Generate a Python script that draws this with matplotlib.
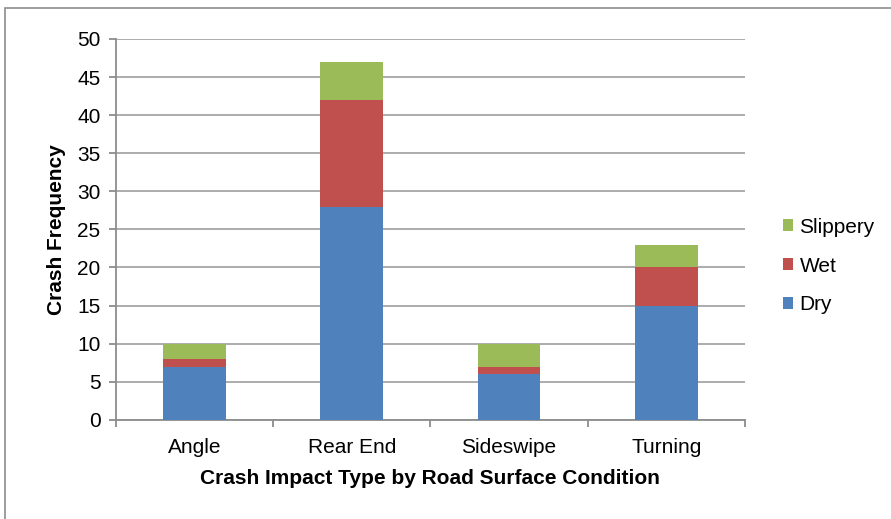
import matplotlib.pyplot as plt
from matplotlib.patches import Rectangle

plt.rcParams['font.family'] = ['Liberation Sans', 'DejaVu Sans']

categories = ['Angle', 'Rear End', 'Sideswipe', 'Turning']
dry = [7, 28, 6, 15]
wet = [1, 14, 1, 5]
slippery = [2, 5, 3, 3]

fig = plt.figure(figsize=(8.91, 5.19), dpi=100)
ax = fig.add_axes([0.130, 0.191, 0.706, 0.734])

# chart border
fig.patches.append(Rectangle((5 / 891, -0.05), 1.1, 1 - 8 / 519 + 0.05, transform=fig.transFigure,
                             fill=False, edgecolor='#8c8c8c', linewidth=1.2))

x = range(len(categories))
w = 0.4
wet_base = [d for d in dry]
slip_base = [d + v for d, v in zip(dry, wet)]
b1 = ax.bar(x, dry, w, color='#4f81bd', label='Dry', zorder=3)
b2 = ax.bar(x, wet, w, bottom=wet_base, color='#c0504d', label='Wet', zorder=3)
b3 = ax.bar(x, slippery, w, bottom=slip_base, color='#9bbb59', label='Slippery', zorder=3)

ax.set_xlim(-0.5, 3.5)
ax.set_ylim(0, 50)
ax.set_yticks(range(0, 51, 5))
ax.yaxis.grid(True, color='#a6a6a6', linewidth=1.3, zorder=0)
ax.set_axisbelow(True)
for s in ['top', 'right']:
    ax.spines[s].set_visible(False)
ax.spines['left'].set_color('#8c8c8c')
ax.spines['bottom'].set_color('#8c8c8c')
ax.spines['left'].set_linewidth(1.3)
ax.spines['bottom'].set_linewidth(1.3)

fs = 15
ax.set_xticks(list(x))
ax.set_xticklabels(categories)
ax.set_xticks([-0.5, 0.5, 1.5, 2.5, 3.5], minor=True)
ax.tick_params(axis='x', which='major', length=0, labelsize=fs, pad=13)
ax.tick_params(axis='x', which='minor', length=5, color='#8c8c8c', width=1.3)
ax.tick_params(axis='y', length=5, color='#8c8c8c', width=1.3, labelsize=fs, pad=6)

ax.set_xlabel('Crash Impact Type by Road Surface Condition', fontsize=fs, fontweight='bold', labelpad=9)
ax.set_ylabel('Crash Frequency', fontsize=fs, fontweight='bold', labelpad=8)

fig.legend(handles=[b3, b2, b1], loc='center left', bbox_to_anchor=(764 / 891, 1 - 266 / 519),
           frameon=False, fontsize=fs, handlelength=0.5, handleheight=0.5,
           labelspacing=0.95, handletextpad=0.3)

fig.savefig('out.png', dpi=100)
